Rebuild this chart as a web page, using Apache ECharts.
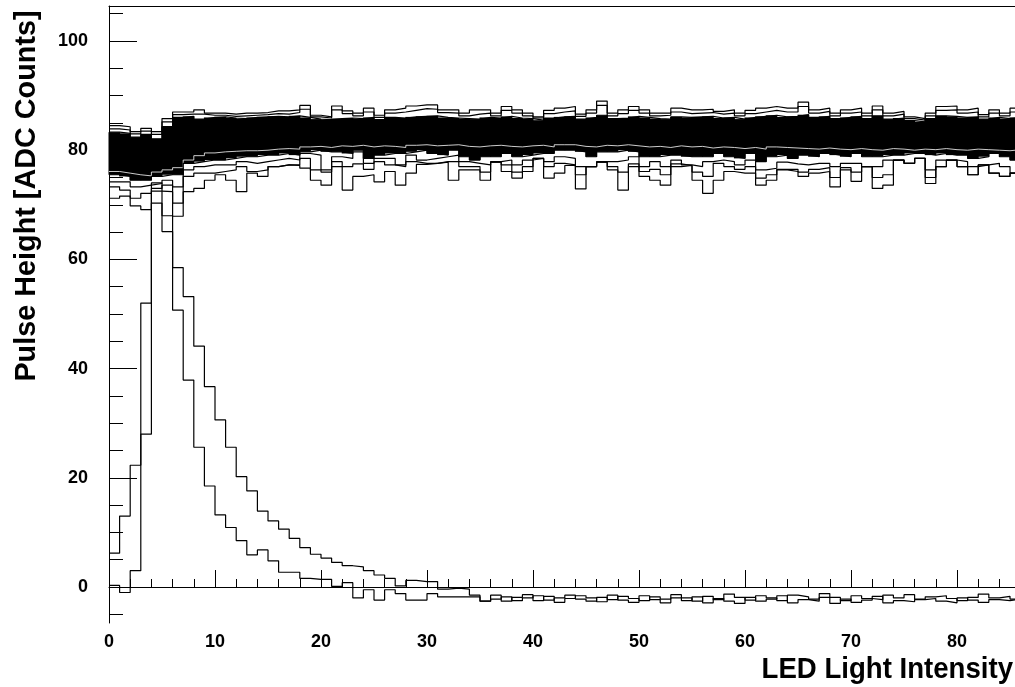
<!DOCTYPE html>
<html>
<head>
<meta charset="utf-8">
<script src="https://cdn.jsdelivr.net/npm/echarts@6/dist/echarts.min.js"></script>
<style>
html,body{margin:0;padding:0;background:#fff;}
#chart{width:1015px;height:687px;}
</style>
</head>
<body>
<div id="chart"></div>
<script>
// ---- axis ticks / labels ----
const xMajorTicks = [0,10,20,30,40,50,60,70,80];
const xMinorTicks = [0,2,4,6,8,10,12,14,16,18,20,22,24,26,28,30,32,34,36,38,40,42,44,46,48,50,52,54,56,58,60,62,64,66,68,70,72,74,76,78,80,82,84];
const yMajorTicks = [0,20,40,60,80,100];
const yMinorTicks = [-5,0,5,10,15,20,25,30,35,40,45,50,55,60,65,70,75,80,85,90,95,100,105];

// ---- band of overlapping channel histograms (bins 0..85) ----
// topmost outline
const topLine = [
 84.5,84.3,83.4,84.0,83.4,85.8,87.0,87.0,87.4,86.8,
 86.8,86.6,86.8,86.8,86.9,87.2,87.2,87.4,88.2,86.4,
 86.1,88.1,87.2,86.8,87.7,86.4,87.4,87.7,88.1,88.3,
 88.3,87.4,87.4,86.8,87.4,87.4,86.8,88.0,87.4,86.8,
 86.1,87.3,87.7,88.0,86.6,87.4,89.0,86.8,87.4,88.0,
 87.4,86.8,86.8,87.7,87.4,87.4,87.5,87.1,87.4,86.8,
 87.3,87.7,88.0,87.7,87.7,88.8,87.4,87.7,86.8,87.4,
 87.7,86.8,88.1,86.8,87.1,86.1,85.8,86.8,88.0,88.1,
 87.4,87.7,86.5,87.4,86.8,87.7];
// second outline from top
const topLine2 = [
 83.9,83.7,83.0,83.5,82.9,85.2,86.5,86.6,86.6,86.4,
 86.4,86.2,86.3,86.4,86.5,86.7,86.6,86.9,87.5,86.1,
 85.9,87.4,86.7,86.3,87.0,86.0,86.8,87.0,87.3,87.6,
 87.5,86.9,86.8,86.3,86.6,86.8,86.3,87.3,86.8,86.3,
 85.9,86.7,87.0,87.2,86.2,86.8,88.2,86.3,86.7,87.3,
 86.8,86.3,86.4,87.0,86.7,86.8,86.9,86.6,86.8,86.3,
 86.7,87.0,87.3,87.0,87.0,88.0,86.8,87.1,86.3,86.8,
 87.0,86.3,87.4,86.3,86.6,85.8,85.5,86.3,87.3,87.4,
 86.8,87.0,86.1,86.8,86.3,87.0];
// top of the dense (solid) part
const denseTop = [
 83.3,83.1,82.4,82.9,82.1,84.3,86.0,86.2,85.7,86.0,
 86.1,85.9,85.8,86.0,86.1,86.2,86.1,86.3,86.0,85.7,
 85.6,85.8,85.9,85.8,86.0,85.6,86.0,85.9,86.1,86.2,
 86.3,86.0,85.9,85.8,85.7,86.0,85.9,86.2,85.9,85.8,
 85.5,85.9,86.1,86.2,85.7,86.0,86.4,85.8,85.9,86.2,
 86.0,85.8,85.7,86.1,86.0,86.1,86.2,85.9,86.0,85.7,
 86.0,86.2,86.4,86.1,86.2,86.5,86.0,86.2,85.8,86.0,
 86.2,85.8,86.3,85.7,85.9,85.4,85.2,85.8,86.3,86.2,
 86.0,86.1,85.7,86.0,85.8,86.0];
// a thin gap line inside the dense part (where outlines leave white)
const denseGap = [
 76.1,75.8,75.5,75.3,76.0,76.4,76.8,78.2,79.0,79.5,
 79.7,79.8,79.9,79.9,80.0,80.2,80.3,80.2,80.6,80.7,
 80.5,80.8,80.7,80.9,80.6,80.8,80.7,80.5,80.9,81.0,
 80.8,80.9,81.0,80.7,80.6,80.8,80.9,80.7,80.6,80.8,
 80.9,80.6,81.0,81.0,80.7,80.6,80.9,80.8,81.0,80.8,
 80.6,80.7,80.5,80.8,80.6,80.7,80.4,80.6,80.5,80.3,
 80.5,80.2,80.6,80.5,80.4,80.3,80.2,80.4,80.2,80.1,
 80.3,80.1,80.0,80.3,80.2,80.0,80.2,80.1,80.3,80.1,
 80.0,80.2,80.1,80.0,79.9,80.1];
// lower outlines (from highest to lowest); the highest one bounds the dense part
const lowLineA = [
 75.5,75.2,74.5,74.5,75.2,75.5,75.5,77.6,77.9,78.2,
 78.2,78.5,78.8,78.8,79.1,79.1,79.4,79.1,79.7,80.0,
 79.7,79.7,79.4,80.0,78.5,79.1,79.4,79.4,79.7,80.0,
 79.4,79.1,80.0,78.8,78.2,78.8,78.8,79.4,78.8,79.1,
 79.4,79.4,80.0,80.0,79.7,78.8,79.7,79.7,80.0,79.7,
 78.8,78.8,79.1,79.1,78.8,78.8,78.8,79.4,78.8,78.5,
 79.4,77.9,78.8,79.1,78.5,79.1,78.8,79.4,79.1,78.8,
 79.4,78.8,78.8,79.1,79.1,79.4,79.4,79.1,79.4,79.1,
 79.1,78.5,78.8,79.4,78.8,78.2];
const lowLineB = [
 74.2,74.2,73.3,73.6,73.9,74.5,73.3,76.4,77.0,77.3,
 77.3,77.3,77.9,77.6,77.9,78.2,78.5,78.2,79.4,79.1,
 76.4,78.8,78.5,79.7,77.6,78.5,78.5,77.3,79.1,78.2,
 78.5,78.8,79.1,77.9,77.6,77.3,77.9,78.2,77.3,78.2,
 78.5,77.9,78.8,78.5,77.0,77.0,77.9,77.9,78.2,78.8,
 77.0,77.9,77.0,78.2,77.3,77.0,77.9,78.2,77.9,77.3,
 78.2,76.4,76.7,77.8,77.5,77.3,77.6,77.6,77.0,77.6,
 77.6,77.0,77.0,78.2,78.2,77.6,78.5,76.4,78.2,78.2,
 77.9,77.0,77.3,77.6,77.0,75.8];
const lowLineC = [
 73.3,72.7,71.2,72.1,73.0,73.6,70.3,75.2,75.8,75.8,
 76.1,76.4,77.0,76.1,76.4,77.0,77.3,77.3,78.5,76.4,
 76.0,77.9,77.0,77.5,76.5,77.9,77.3,77.0,77.9,77.6,
 77.6,77.9,77.9,77.0,77.0,76.0,77.8,77.3,76.0,77.0,
 78.5,77.0,77.6,77.3,75.5,77.0,77.8,77.0,76.0,77.5,
 76.1,76.5,75.5,77.5,77.2,76.0,75.2,77.6,77.0,76.5,
 77.0,74.9,75.5,76.5,76.5,76.0,76.5,76.8,75.0,76.8,
 76.0,77.0,75.0,75.5,78.2,77.6,78.5,75.0,77.0,78.2,
 77.0,75.5,77.3,75.8,75.2,75.8];
const lowLineD = [
 71.2,71.6,69.8,69.1,72.5,72.4,67.9,72.4,73.0,74.5,
 75.5,74.5,72.4,75.8,75.2,77.0,77.3,77.2,76.7,74.5,
 73.6,77.0,72.7,75.2,75.5,74.2,76.1,73.6,75.8,77.4,
 77.6,77.8,74.5,76.4,76.4,74.5,77.8,76.1,74.9,76.1,
 78.5,74.9,75.8,77.2,72.9,77.0,77.8,76.4,72.7,77.0,
 75.2,74.5,73.6,77.0,77.2,74.5,72.1,74.5,76.1,75.8,
 75.8,73.6,74.5,76.4,76.1,75.2,75.8,76.1,73.3,76.4,
 74.3,77.0,73.0,73.6,78.2,77.6,78.5,73.9,77.0,78.2,
 77.0,75.5,77.3,75.8,75.2,75.8];

// ---- the two channels that peak at low intensity ----
const peakEarly = [
 6.2,13.0,22.3,52.0,70.3,65.1,50.7,37.9,25.6,18.5,
 13.2,10.9,8.5,5.9,6.8,4.8,2.7,2.7,1.6,1.4,
 1.4,0.1,0.8,-2.0,-0.5,-2.4,-0.5,-1.2,-2.4,-2.4,
 -1.2,-1.8,-1.8,-1.8,-1.8,-2.6,-2.2,-1.8,-2.5,-2.0,
 -1.6,-2.4,-2.0,-1.5,-2.2,-2.6,-1.9,-2.3,-1.7,-2.1,
 -2.5,-1.8,-2.2,-1.4,-2.0,-2.6,-1.7,-2.3,-1.3,-1.9,
 -2.4,-1.6,-2.0,-2.5,-1.5,-1.8,-2.2,-1.2,-1.9,-2.5,
 -1.6,-2.1,-2.3,-1.5,-2.0,-1.4,-2.2,-1.8,-1.6,-2.1,
 -2.5,-1.9,-1.3,-2.0,-1.7,-2.2];
const peakLate = [
 0.3,-1.0,3.0,28.0,74.0,68.0,58.5,53.2,44.1,36.7,
 30.6,25.6,20.2,17.6,13.9,12.1,10.6,8.9,7.2,6.0,
 5.3,4.5,3.9,3.7,3.0,2.2,1.6,0.2,1.2,1.0,
 1.0,-0.4,-0.2,-0.4,-1.5,-2.6,-1.5,-2.6,-1.9,-1.4,
 -2.5,-1.7,-2.8,-2.1,-1.6,-2.0,-2.7,-1.5,-2.4,-2.8,
 -1.6,-2.3,-2.9,-2.0,-2.5,-1.8,-2.9,-2.1,-2.6,-3.0,
 -1.9,-2.6,-2.2,-1.6,-2.9,-2.3,-2.6,-1.9,-3.0,-2.2,
 -2.8,-2.4,-1.7,-2.9,-2.5,-2.7,-2.3,-2.1,-2.6,-2.9,
 -2.0,-2.4,-2.8,-2.3,-2.5,-2.2];

// ---- build histogram outlines (left bin edges + closing edge) ----
function hist(arr){
  const d = arr.map((v,i)=>[i,v]);
  d.push([arr.length, arr[arr.length-1]]);
  return d;
}
const bandCells = denseTop.map((v,i)=>[i, lowLineA[i], v]);

const FONT = '"Liberation Sans", Arial, Helvetica, sans-serif';
const LINE = '#000';
const LW = 1.2;

function stepSeries(name, arr, color, width){
  return {name, type:'line', step:'end', data:hist(arr), symbol:'none',
    xAxisIndex:0, yAxisIndex:0, silent:true, z:3,
    lineStyle:{color:color || LINE, width:width || LW}};
}

const series = [
  {name:'dense', type:'custom', data:bandCells, silent:true, z:2,
   encode:{x:0, y:[1,2]},
   renderItem:function(params, api){
     const i = api.value(0), lo = api.value(1), hi = api.value(2);
     const p1 = api.coord([i, hi]);
     const p2 = api.coord([i + 1, lo]);
     return {type:'rect',
       shape:{x:p1[0]-0.5, y:p1[1], width:p2[0]-p1[0]+1, height:p2[1]-p1[1]},
       style:{fill:'#000'}};
   }},
  stepSeries('denseGap', denseGap, '#fff', 0.8),
  stepSeries('denseTopEdge', denseTop),
  stepSeries('top1', topLine),
  stepSeries('top2', topLine2),
  stepSeries('lowA', lowLineA),
  stepSeries('lowB', lowLineB),
  stepSeries('lowC', lowLineC),
  stepSeries('lowD', lowLineD),
  stepSeries('early', peakEarly),
  stepSeries('late', peakLate)
];

const xMin = 0, xMax = 85.47, yMin = -6.59, yMax = 106.41;
const chart = echarts.init(document.getElementById('chart'), null, {renderer:'canvas'});
chart.setOption({
  animation:false,
  backgroundColor:'#fff',
  grid:{left:109, right:0, top:6, bottom:64, containLabel:false, outerBoundsMode:'none'},
  xAxis:[
    {type:'value', min:xMin, max:xMax, position:'bottom',
     axisLine:{show:true, lineStyle:{color:'#000', width:1}},
     axisTick:{show:true, inside:true, length:17, customValues:xMajorTicks, lineStyle:{color:'#000'}},
     axisLabel:{show:true, customValues:xMajorTicks, margin:10, color:'#000',
       fontFamily:FONT, fontWeight:'bold', fontSize:18},
     splitLine:{show:false}},
    {type:'value', min:xMin, max:xMax, position:'bottom',
     axisLine:{show:false},
     axisTick:{show:true, inside:true, length:8, customValues:xMinorTicks, lineStyle:{color:'#000'}},
     axisLabel:{show:false}, splitLine:{show:false}},
    {type:'value', min:xMin, max:xMax, position:'top',
     axisLine:{show:true, lineStyle:{color:'#000', width:1}},
     axisTick:{show:false}, axisLabel:{show:false}, splitLine:{show:false}}
  ],
  yAxis:[
    {type:'value', min:yMin, max:yMax, position:'left',
     axisLine:{show:true, lineStyle:{color:'#000', width:1}},
     axisTick:{show:true, inside:true, length:28, customValues:yMajorTicks, lineStyle:{color:'#000'}},
     axisLabel:{show:true, customValues:yMajorTicks, margin:21, color:'#000',
       fontFamily:FONT, fontWeight:'bold', fontSize:18, padding:[5,0,0,0]},
     splitLine:{show:false}},
    {type:'value', min:yMin, max:yMax, position:'left',
     axisLine:{show:false},
     axisTick:{show:true, inside:true, length:14, customValues:yMinorTicks, lineStyle:{color:'#000'}},
     axisLabel:{show:false}, splitLine:{show:false}}
  ],
  graphic:[
    {type:'text', x:1013, y:670, scaleX:0.92, silent:true,
     style:{text:'LED Light Intensity', font:'bold 30px ' + FONT, fill:'#000',
       align:'right', verticalAlign:'middle'}},
    {type:'text', x:27, y:196, rotation:Math.PI/2, scaleX:0.96, silent:true,
     style:{text:'Pulse Height [ADC Counts]', font:'bold 30px ' + FONT, fill:'#000',
       align:'center', verticalAlign:'middle'}}
  ],
  series
});
</script>
</body>
</html>
